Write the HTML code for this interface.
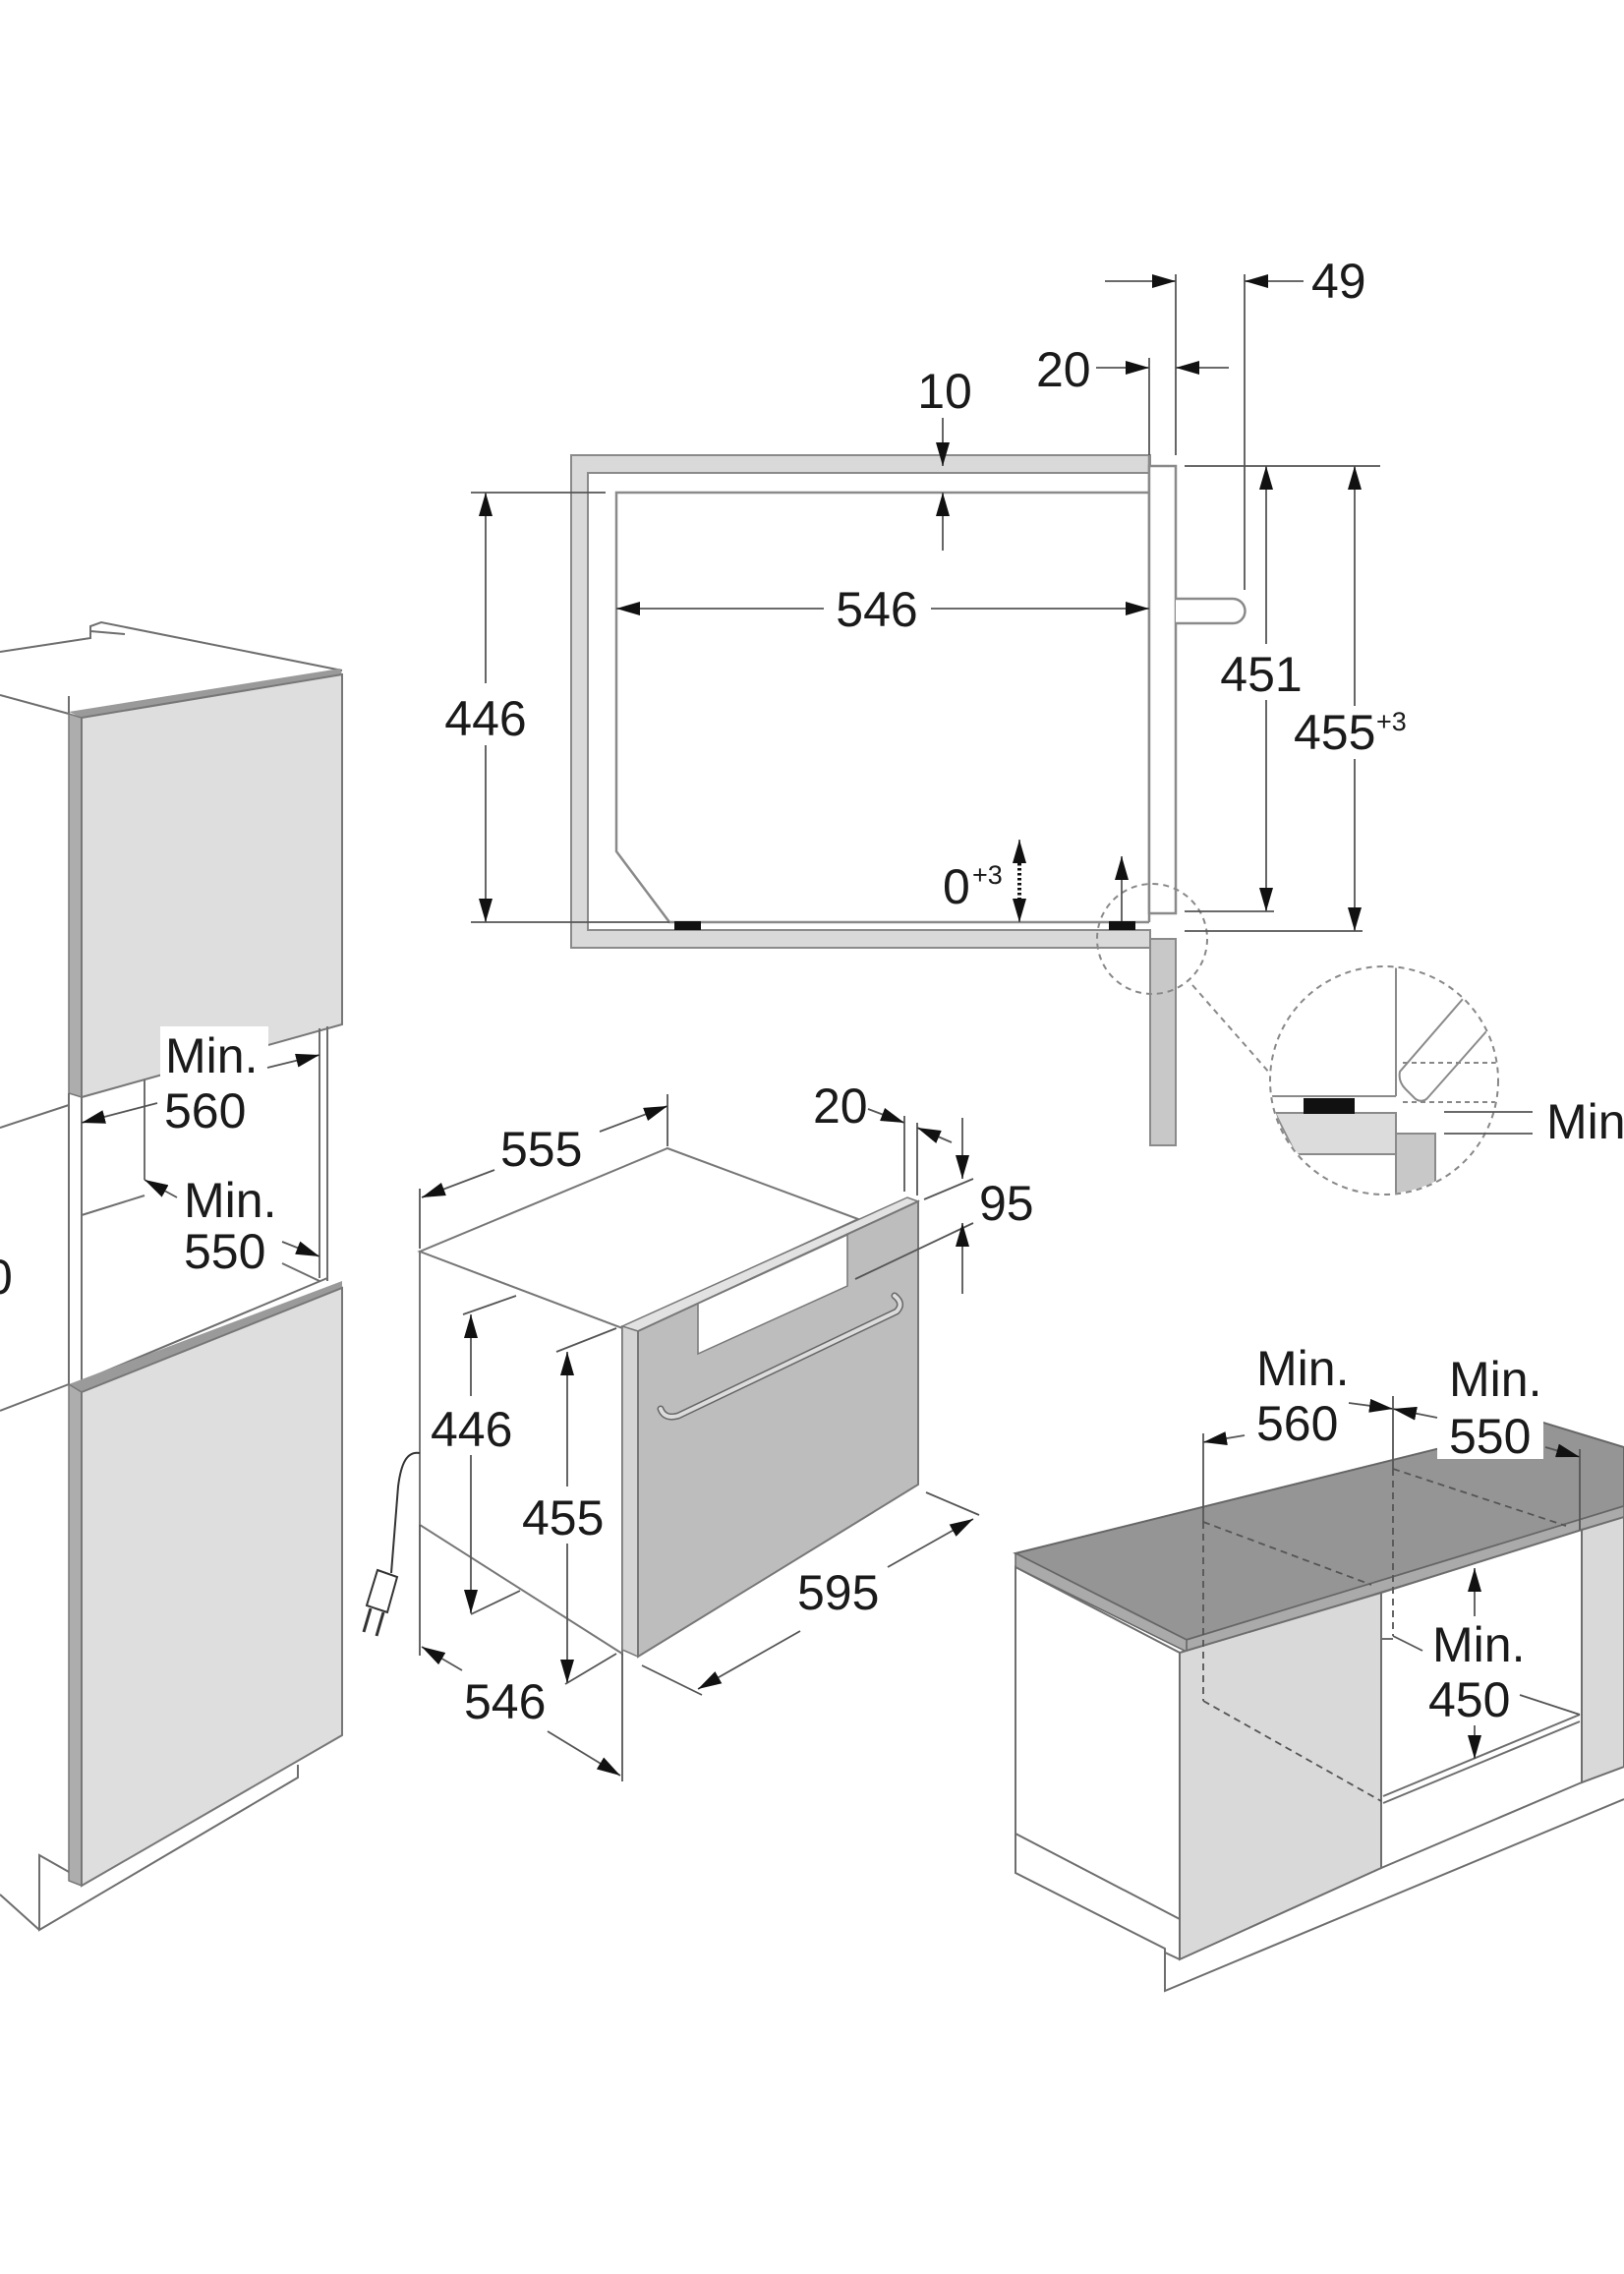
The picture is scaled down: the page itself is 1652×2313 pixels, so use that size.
<!DOCTYPE html>
<html><head><meta charset="utf-8"><style>
html,body{margin:0;padding:0;background:#fff;}
svg{display:block;}
text{font-family:"Liberation Sans",Arial,sans-serif;font-size:50px;fill:#1a1a1a;}
.sup{font-size:27px;}
.o{fill:none;stroke:#6e6e6e;stroke-width:2;}
.d{fill:none;stroke:#555;stroke-width:1.8;}
.da{fill:none;stroke:#555;stroke-width:1.8;marker-end:url(#ar);}
.dash{fill:none;stroke:#555;stroke-width:1.8;stroke-dasharray:7 5;}
</style></head><body>
<svg width="1652" height="2313" viewBox="0 0 1652 2313" xmlns="http://www.w3.org/2000/svg">
<defs>
<marker id="ar" viewBox="0 0 24 14" refX="24" refY="7" markerWidth="24" markerHeight="14" orient="auto" markerUnits="userSpaceOnUse"><path d="M0,0 L24,7 L0,14 z" fill="#111"/></marker>
<clipPath id="bigc"><circle cx="1408" cy="1099" r="115"/></clipPath>
</defs>
<rect width="1652" height="2313" fill="#fff"/>

<!-- ================= TOP SECTION DIAGRAM ================= -->
<path d="M581,463 H1170 V481 H598 V946 H1170 V964 H581 Z" fill="#d9d9d9" stroke="#8a8a8a" stroke-width="2"/>
<path d="M1169,501 H627 V866 L681,938 H1169" fill="none" stroke="#8a8a8a" stroke-width="2.5"/>
<line x1="1169" y1="463" x2="1169" y2="938" stroke="#8a8a8a" stroke-width="2.5"/>
<rect x="1169" y="474" width="27" height="455" fill="#fff" stroke="#8a8a8a" stroke-width="2.5"/>
<path d="M1196,609 H1254 A12.5,12.5 0 0 1 1254,634 H1196" fill="#fff" stroke="#8a8a8a" stroke-width="2.5"/>
<rect x="686" y="937" width="27" height="9" fill="#111"/>
<rect x="1128" y="937" width="27" height="9" fill="#111"/>
<rect x="1170" y="955" width="26" height="210" fill="#c8c8c8" stroke="#8a8a8a" stroke-width="2"/>
<circle cx="1172" cy="955" r="56" fill="none" stroke="#888" stroke-width="2" stroke-dasharray="6 5"/>
<line x1="1213" y1="1002" x2="1292" y2="1092" stroke="#888" stroke-width="2" stroke-dasharray="6 5"/>

<!-- ext lines -->
<line class="d" x1="1169" y1="364" x2="1169" y2="463"/>
<line class="d" x1="1196" y1="279" x2="1196" y2="463"/>
<line class="d" x1="1266" y1="279" x2="1266" y2="600"/>
<line class="d" x1="1205" y1="474" x2="1404" y2="474"/>
<line class="d" x1="1205" y1="927" x2="1296" y2="927"/>
<line class="d" x1="1205" y1="947" x2="1386" y2="947"/>
<line class="d" x1="479" y1="501" x2="616" y2="501"/>
<line class="d" x1="479" y1="938" x2="681" y2="938"/>
<!-- dims -->
<line class="da" x1="1124" y1="286" x2="1196" y2="286"/>
<line class="da" x1="1326" y1="286" x2="1266" y2="286"/>
<text x="1334" y="303">49</text>
<line class="da" x1="1115" y1="374" x2="1169" y2="374"/>
<line class="da" x1="1250" y1="374" x2="1196" y2="374"/>
<text x="1054" y="393">20</text>
<line class="da" x1="959" y1="425" x2="959" y2="474"/>
<line class="da" x1="959" y1="560" x2="959" y2="501"/>
<text x="961" y="415" text-anchor="middle">10</text>
<line class="da" x1="838" y1="619" x2="627" y2="619"/>
<line class="da" x1="947" y1="619" x2="1169" y2="619"/>
<text x="892" y="637" text-anchor="middle">546</text>
<line class="da" x1="494" y1="695" x2="494" y2="501"/>
<line class="da" x1="494" y1="758" x2="494" y2="938"/>
<text x="494" y="748" text-anchor="middle">446</text>
<line class="da" x1="1288" y1="655" x2="1288" y2="474"/>
<line class="da" x1="1288" y1="712" x2="1288" y2="927"/>
<text x="1283" y="703" text-anchor="middle">451</text>
<line class="da" x1="1378" y1="718" x2="1378" y2="474"/>
<line class="da" x1="1378" y1="772" x2="1378" y2="947"/>
<text x="1316" y="762">455</text><text class="sup" x="1400" y="743">+3</text>
<line class="da" x1="1037" y1="880" x2="1037" y2="854"/>
<line x1="1037" y1="878" x2="1037" y2="916" stroke="#111" stroke-width="4" stroke-dasharray="2.5 2.5"/>
<line class="da" x1="1037" y1="914" x2="1037" y2="938"/>
<text x="959" y="919">0</text><text class="sup" x="989" y="899">+3</text>
<line class="da" x1="1141" y1="937" x2="1141" y2="871"/>

<!-- big detail circle -->
<g clip-path="url(#bigc)">
<path d="M1297,1132 H1420 V1174 H1318 Z" fill="#dcdcdc" stroke="#8a8a8a" stroke-width="2"/>
<rect x="1420" y="1153" width="40" height="90" fill="#c8c8c8" stroke="#8a8a8a" stroke-width="2"/>
<line x1="1420" y1="978" x2="1420" y2="1115" stroke="#8a8a8a" stroke-width="2"/>
<line x1="1290" y1="1115" x2="1420" y2="1115" stroke="#8a8a8a" stroke-width="2"/>
<rect x="1326" y="1117" width="52" height="16" fill="#111"/>
<path d="M1495,1008 L1424,1090 Q1422,1100 1430,1108 L1440,1118 Q1447,1122 1452,1117 L1520,1040" fill="none" stroke="#8a8a8a" stroke-width="2"/>
<line x1="1427" y1="1081" x2="1530" y2="1081" stroke="#888" stroke-width="2" stroke-dasharray="5 4"/>
<line x1="1427" y1="1121" x2="1530" y2="1121" stroke="#888" stroke-width="2" stroke-dasharray="5 4"/>
</g>
<circle cx="1408" cy="1099" r="116" fill="none" stroke="#888" stroke-width="2" stroke-dasharray="6 5"/>
<line class="d" x1="1469" y1="1131" x2="1559" y2="1131"/>
<line class="d" x1="1469" y1="1153" x2="1559" y2="1153"/>
<text x="1573" y="1158">Min.</text>

<!-- ================= LEFT TALL CABINET ================= -->
<polyline class="o" points="0,663 92,649 92,637 103,633 348,682"/>
<line class="o" x1="92" y1="642" x2="127" y2="645"/>
<line class="o" x1="0" y1="707" x2="70" y2="726"/>
<line class="o" x1="70" y1="708" x2="70" y2="726"/>
<polygon points="70,724 346,680 348,686 83,730" fill="#9a9a9a"/>
<polygon points="70,726 83,730 83,1116 70,1112" fill="#adadad" stroke="#777" stroke-width="1.5"/>
<polygon points="83,730 348,686 348,1042 83,1116" fill="#dedede" stroke="#777" stroke-width="2"/>
<rect x="163" y="1044" width="110" height="106" fill="#fff"/>
<line class="o" x1="70" y1="1112" x2="70" y2="1408"/>
<line class="o" x1="83" y1="1116" x2="83" y2="1405"/>
<line class="o" x1="147" y1="1098" x2="147" y2="1200"/>
<line class="o" x1="325" y1="1046" x2="325" y2="1300"/>
<line class="o" x1="333" y1="1044" x2="333" y2="1303"/>
<line class="o" x1="0" y1="1147" x2="70" y2="1124"/>
<line class="o" x1="83" y1="1236" x2="147" y2="1216"/>
<line class="o" x1="83" y1="1405" x2="333" y2="1300"/>
<line class="o" x1="0" y1="1435" x2="70" y2="1408"/>
<line class="o" x1="287" y1="1285" x2="325" y2="1303"/>
<polygon points="70,1408 348,1303 348,1310 83,1416" fill="#9a9a9a"/>
<polygon points="70,1408 83,1416 83,1918 70,1913" fill="#adadad" stroke="#777" stroke-width="1.5"/>
<polygon points="83,1416 348,1310 348,1765 83,1918" fill="#dedede" stroke="#777" stroke-width="2"/>
<polyline class="o" points="303,1795 303,1808 40,1963 40,1887 70,1904"/>
<line class="o" x1="0" y1="1927" x2="40" y2="1963"/>
<line class="da" x1="272" y1="1086" x2="325" y2="1073"/>
<line class="da" x1="160" y1="1122" x2="83" y2="1142"/>
<line class="da" x1="180" y1="1218" x2="147" y2="1200"/>
<line class="da" x1="287" y1="1263" x2="325" y2="1278"/>
<text x="168" y="1091">Min.</text>
<text x="167" y="1147">560</text>
<text x="187" y="1238">Min.</text>
<text x="187" y="1290">550</text>
<text x="-15" y="1316">0</text>

<!-- ================= MIDDLE OVEN ================= -->
<polygon points="427,1273 679,1168 873,1240 633,1351" fill="#fff" stroke="#777" stroke-width="2"/>
<polygon points="427,1273 633,1351 633,1682 427,1551" fill="#fff" stroke="#777" stroke-width="2"/>
<polygon points="633,1349 923,1218 934,1222 649,1354" fill="#e2e2e2" stroke="#777" stroke-width="1.5"/>
<polygon points="633,1349 649,1354 649,1685 633,1678" fill="#d4d4d4" stroke="#777" stroke-width="1.5"/>
<polygon points="649,1354 934,1222 934,1510 649,1685" fill="#bdbdbd" stroke="#777" stroke-width="2"/>
<polygon points="710,1326 862,1256 862,1308 710,1377" fill="#fff" stroke="#777" stroke-width="1.5"/>
<path d="M672,1433 Q676,1444 690,1440 L912,1334 Q920,1326 910,1318" fill="none" stroke="#666" stroke-width="7" stroke-linecap="round"/>
<path d="M672,1433 Q676,1444 690,1440 L912,1334 Q920,1326 910,1318" fill="none" stroke="#dcdcdc" stroke-width="4" stroke-linecap="round"/>
<path d="M427,1478 C414,1476 408,1488 405,1512 L398,1600" fill="none" stroke="#333" stroke-width="2"/>
<polygon points="384,1597 404,1604 394,1640 373,1633" fill="#fff" stroke="#333" stroke-width="2"/>
<line x1="377" y1="1636" x2="370" y2="1660" stroke="#333" stroke-width="3"/>
<line x1="390" y1="1640" x2="383" y2="1664" stroke="#333" stroke-width="3"/>
<!-- ext -->
<line class="d" x1="427" y1="1209" x2="427" y2="1270"/>
<line class="d" x1="679" y1="1113" x2="679" y2="1166"/>
<line class="d" x1="920" y1="1135" x2="920" y2="1212"/>
<line class="d" x1="933" y1="1142" x2="933" y2="1216"/>
<line class="d" x1="940" y1="1220" x2="990" y2="1199"/>
<line class="d" x1="870" y1="1301" x2="990" y2="1244"/>
<line class="d" x1="942" y1="1518" x2="996" y2="1541"/>
<line class="d" x1="653" y1="1694" x2="714" y2="1724"/>
<line class="d" x1="427" y1="1551" x2="427" y2="1684"/>
<line class="d" x1="633" y1="1682" x2="633" y2="1812"/>
<line class="d" x1="471" y1="1337" x2="525" y2="1318"/>
<line class="d" x1="479" y1="1642" x2="529" y2="1618"/>
<line class="d" x1="566" y1="1375" x2="627" y2="1351"/>
<line class="d" x1="575" y1="1713" x2="627" y2="1682"/>
<!-- dims -->
<line class="da" x1="503" y1="1190" x2="429" y2="1218"/>
<line class="da" x1="610" y1="1151" x2="679" y2="1125"/>
<text x="509" y="1186">555</text>
<line class="da" x1="883" y1="1128" x2="920" y2="1142"/>
<line class="da" x1="968" y1="1162" x2="933" y2="1147"/>
<text x="827" y="1142">20</text>
<line class="da" x1="979" y1="1137" x2="979" y2="1199"/>
<line class="da" x1="979" y1="1316" x2="979" y2="1244"/>
<text x="996" y="1241">95</text>
<line class="da" x1="814" y1="1659" x2="710" y2="1718"/>
<line class="da" x1="903" y1="1594" x2="990" y2="1545"/>
<text x="811" y="1637">595</text>
<line class="da" x1="470" y1="1699" x2="429" y2="1675"/>
<line class="da" x1="557" y1="1761" x2="631" y2="1806"/>
<text x="472" y="1748">546</text>
<line class="da" x1="479" y1="1420" x2="479" y2="1337"/>
<line class="da" x1="479" y1="1480" x2="479" y2="1641"/>
<text x="438" y="1471">446</text>
<line class="da" x1="577" y1="1512" x2="577" y2="1375"/>
<line class="da" x1="577" y1="1570" x2="577" y2="1712"/>
<text x="531" y="1561">455</text>

<!-- ================= RIGHT COUNTER ================= -->
<polygon points="1033,1580 1570,1447 1652,1472 1652,1532 1207,1668" fill="#959595" stroke="#666" stroke-width="2"/>
<polygon points="1207,1668 1652,1532 1652,1544 1207,1680" fill="#aaaaaa" stroke="#666" stroke-width="1.5"/>
<polygon points="1033,1580 1207,1668 1207,1680 1033,1594" fill="#aaaaaa" stroke="#666" stroke-width="1.5"/>
<polygon points="1033,1594 1200,1681 1200,1952 1033,1865" fill="#fff" stroke="#6e6e6e" stroke-width="2"/>
<polygon points="1200,1681 1405,1620 1405,1900 1200,1993" fill="#d9d9d9" stroke="#6e6e6e" stroke-width="2"/>
<polygon points="1405,1620 1609,1556 1609,1813 1405,1900" fill="#fff" stroke="#6e6e6e" stroke-width="2"/>
<polygon points="1609,1556 1652,1543 1652,1797 1609,1813" fill="#d9d9d9" stroke="#6e6e6e" stroke-width="2"/>
<line class="o" x1="1407" y1="1827" x2="1607" y2="1744"/>
<line class="o" x1="1407" y1="1834" x2="1607" y2="1751"/>
<polyline class="o" points="1033,1865 1033,1905 1185,1982 1185,2025 1652,1830"/>
<line class="o" x1="1185" y1="1986" x2="1200" y2="1993"/>
<line class="o" x1="1405" y1="1667" x2="1417" y2="1667"/>
<!-- dashed hidden oven -->
<line class="dash" x1="1224" y1="1548" x2="1224" y2="1730"/>
<line class="dash" x1="1224" y1="1548" x2="1395" y2="1612"/>
<line class="dash" x1="1224" y1="1730" x2="1405" y2="1832"/>
<line class="dash" x1="1417" y1="1494" x2="1417" y2="1664"/>
<line class="dash" x1="1417" y1="1494" x2="1593" y2="1552"/>
<!-- ext -->
<line class="d" x1="1224" y1="1458" x2="1224" y2="1548"/>
<line class="d" x1="1417" y1="1420" x2="1417" y2="1494"/>
<line class="d" x1="1607" y1="1474" x2="1607" y2="1556"/>
<line class="d" x1="1417" y1="1664" x2="1447" y2="1679"/>
<line class="d" x1="1546" y1="1724" x2="1607" y2="1744"/>
<rect x="1462" y="1428" width="108" height="56" fill="#fff"/>
<line class="da" x1="1266" y1="1460" x2="1224" y2="1467"/>
<line class="da" x1="1372" y1="1427" x2="1417" y2="1433"/>
<line class="da" x1="1462" y1="1442" x2="1417" y2="1433"/>
<line class="da" x1="1572" y1="1472" x2="1607" y2="1482"/>
<line class="da" x1="1500" y1="1644" x2="1500" y2="1595"/>
<line class="da" x1="1500" y1="1755" x2="1500" y2="1789"/>
<text x="1278" y="1409">Min.</text>
<text x="1278" y="1465">560</text>
<text x="1474" y="1420">Min.</text>
<text x="1474" y="1478">550</text>
<text x="1457" y="1690">Min.</text>
<text x="1453" y="1746">450</text>
</svg>
</body></html>
